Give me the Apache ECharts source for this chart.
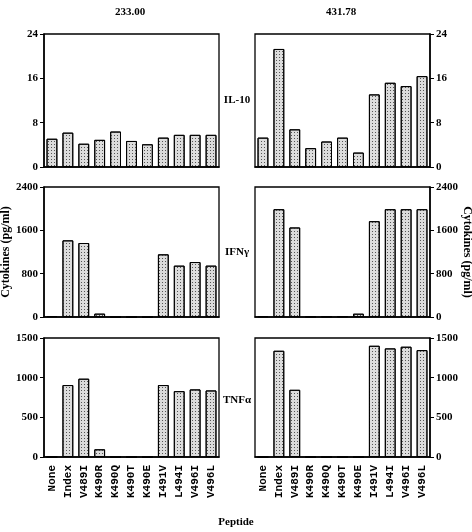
<!DOCTYPE html>
<html><head><meta charset="utf-8">
<script src="https://cdn.jsdelivr.net/npm/echarts@6/dist/echarts.min.js"></script>
<style>html,body{margin:0;padding:0;background:#fff}#c{width:472px;height:532px}</style>
</head><body><div id="c"></div>
<script>
var peptides = ['None','Index','V489I','K490R','K490Q','K490T','K490E','I491V','L494I','V496I','V496L'];
var il10_233 = [5.1, 6.2, 4.2, 4.9, 6.4, 4.7, 4.1, 5.3, 5.8, 5.8, 5.8];
var il10_431 = [5.3, 21.3, 6.8, 3.4, 4.6, 5.3, 2.6, 13.1, 15.2, 14.6, 16.4];
var ifn_233 = [15, 1415, 1366, 62, 0, 0, 0, 1157, 948, 1015, 948];
var ifn_431 = [12, 1990, 1653, 6, 10, 10, 61, 1769, 1990, 1990, 1990];
var tnf_233 = [0, 907, 987, 97, 0, 0, 0, 907, 830, 852, 839];
var tnf_431 = [0, 1339, 847, 0, 0, 0, 0, 1402, 1369, 1390, 1347];
var il10Ticks = [0, 24, 8];
var ifnTicks = [0, 2400, 800];
var tnfTicks = [0, 1500, 500];

var serif = '"Liberation Serif", "DejaVu Serif", serif';
var mono = '"Liberation Mono", "DejaVu Sans Mono", monospace';

var rows = [
  {top: 34, height: 133, ticks: il10Ticks, left: il10_233, right: il10_431},
  {top: 187, height: 130, ticks: ifnTicks, left: ifn_233, right: ifn_431},
  {top: 338, height: 119, ticks: tnfTicks, left: tnf_233, right: tnf_431}
];
var grids = [], xAxes = [], yAxes = [], series = [];
rows.forEach(function(r, ri){
  [0,1].forEach(function(ci){
    var idx = grids.length;
    grids.push({left: ci === 0 ? 44 : 255, width: 175, top: r.top, height: r.height,
      show: true, borderColor: '#000', borderWidth: 1.3, backgroundColor: 'transparent'});
    xAxes.push({type: 'category', gridIndex: idx, data: peptides,
      axisLine: {lineStyle: {color: '#000', width: 1.5}},
      axisTick: {alignWithLabel: true, length: 5, lineStyle: {color: '#000', width: 1}},
      axisLabel: {show: ri === 2, rotate: 90, interval: 0, fontFamily: mono, fontWeight: 'bold',
        fontSize: 11, color: '#000', margin: 8}
    });
    yAxes.push({type: 'value', gridIndex: idx, position: ci === 0 ? 'left' : 'right',
      min: r.ticks[0], max: r.ticks[1], interval: r.ticks[2],
      splitLine: {show: false},
      axisLine: {show: true, lineStyle: {color: '#000', width: 1.5}},
      axisTick: {show: true, length: 4, lineStyle: {color: '#000'}},
      axisLabel: {fontFamily: serif, fontWeight: 'bold', fontSize: 11, color: '#000', margin: 6,
        formatter: function(v){ return String(v); }}
    });
    series.push({type: 'bar', xAxisIndex: idx, yAxisIndex: idx, data: ci === 0 ? r.left : r.right,
      barWidth: '68%', silent: true,
      itemStyle: {color: '#dcdcdc', borderColor: '#000', borderWidth: 1,
        decal: {symbol: 'rect', symbolSize: 1, dashArrayX: [1, 2], dashArrayY: [1, 2], color: '#555'}}
    });
  });
});

var chart = echarts.init(document.getElementById('c'), null, {renderer: 'canvas'});
function label(x, y, t, rot, size){
  return {type: 'text', x: x, y: y, rotation: rot || 0,
    style: {text: t, font: 'bold ' + (size || 11) + 'px ' + serif, fill: '#000', align: 'center', verticalAlign: 'middle'}};
}
chart.setOption({
  animation: false,
  grid: grids, xAxis: xAxes, yAxis: yAxes, series: series,
  graphic: [
    label(130, 12, '233.00'),
    label(341, 12, '431.78'),
    label(237, 100, 'IL-10'),
    label(237, 252, 'IFNγ'),
    label(237, 400, 'TNFα'),
    label(236, 522, 'Peptide'),
    label(6, 252, 'Cytokines (pg/ml)', Math.PI / 2, 12),
    label(467, 252, 'Cytokines (pg/ml)', -Math.PI / 2, 12)
  ]
});
</script></body></html>
